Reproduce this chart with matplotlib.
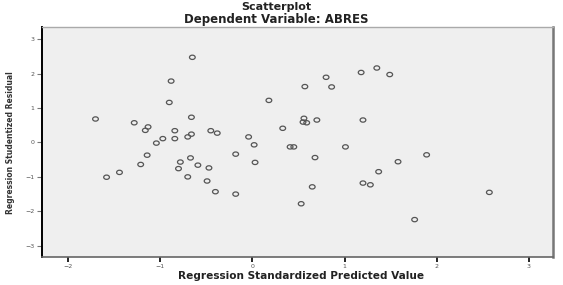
import matplotlib
matplotlib.use('Agg')
import matplotlib.pyplot as plt
from matplotlib.path import Path
from matplotlib.transforms import Affine2D

# standardized predicted values (x) and studentized residuals (y)
pred = [-1.70, -0.65, -0.88, -0.90, -0.66, -1.28, -1.13, -1.16, -0.84, -0.84,
        -0.97, -1.04, -0.66, -0.70, -0.45, -0.38, -1.14, -1.21, -1.44, -1.58,
        -0.78, -0.80, -0.67, -0.59, -0.70, -0.47, -0.49, -0.40, -0.18, -0.18,
        -0.04, 0.02, 0.03, 0.18, 0.33, 0.57, 0.80, 0.86, 1.18, 1.35,
        1.49, 0.56, 0.55, 0.59, 0.70, 1.20, 0.41, 0.45, 1.01, 0.68,
        1.58, 1.89, 1.37, 1.20, 1.28, 0.65, 0.53, 2.57, 1.76]
resid = [0.68, 2.47, 1.78, 1.16, 0.73, 0.57, 0.45, 0.35, 0.34, 0.11,
         0.11, -0.02, 0.24, 0.16, 0.34, 0.27, -0.37, -0.64, -0.87, -1.01,
         -0.57, -0.76, -0.45, -0.66, -1.00, -0.74, -1.12, -1.43, -0.34, -1.50,
         0.16, -0.07, -0.58, 1.22, 0.41, 1.62, 1.89, 1.61, 2.03, 2.16,
         1.97, 0.70, 0.59, 0.57, 0.65, 0.65, -0.13, -0.13, -0.13, -0.44,
         -0.56, -0.36, -0.85, -1.18, -1.23, -1.29, -1.78, -1.45, -2.24]
xticks = [-2, -1, 0, 1, 2, 3]
yticks = [-3, -2, -1, 0, 1, 2, 3]

fig = plt.figure(figsize=(5.63, 2.85), dpi=100)
fig.patch.set_facecolor('white')
ax = fig.add_axes([0.0746, 0.0989, 0.9076, 0.8064])
ax.set_facecolor('#efefef')

# slightly flattened open circle, like the SPSS output
ell = Path.unit_circle().transformed(Affine2D().scale(1.0, 0.75))
ax.scatter(pred, resid, marker=ell, s=17, facecolors='none',
           edgecolors='#555555', linewidths=0.9, zorder=3)

ax.set_xlim(-2.28, 3.26)
ax.set_ylim(-3.32, 3.35)
ax.set_xticks(xticks)
ax.set_yticks(yticks)
ax.tick_params(axis='both', labelsize=4.5, labelcolor='#555555', length=3.5, pad=2)
ax.tick_params(axis='y', color='#777777', width=0.8)
ax.tick_params(axis='x', color='black', width=1.2)

ax.spines['left'].set_color('black')
ax.spines['left'].set_linewidth(1.4)
ax.spines['bottom'].set_color('#666666')
ax.spines['bottom'].set_linewidth(1.2)
ax.spines['top'].set_color('#aaaaaa')
ax.spines['top'].set_linewidth(1.0)
ax.spines['right'].set_color('#777777')
ax.spines['right'].set_linewidth(1.8)

fig.text(0.49, 0.975, 'Scatterplot', ha='center', va='center',
         fontsize=8, fontweight='bold', color='#222222')
fig.text(0.49, 0.932, 'Dependent Variable: ABRES', ha='center', va='center',
         fontsize=8.5, fontweight='bold', color='#222222')
fig.text(0.535, 0.03, 'Regression Standardized Predicted Value', ha='center',
         va='center', fontsize=7.6, fontweight='bold', color='#222222')
fig.text(0.018, 0.50, 'Regression Studentized Residual', ha='center',
         va='center', rotation=90, fontsize=5.5, fontweight='bold', color='#333333')

plt.savefig('out.png', dpi=100, facecolor='white')
plt.close()
